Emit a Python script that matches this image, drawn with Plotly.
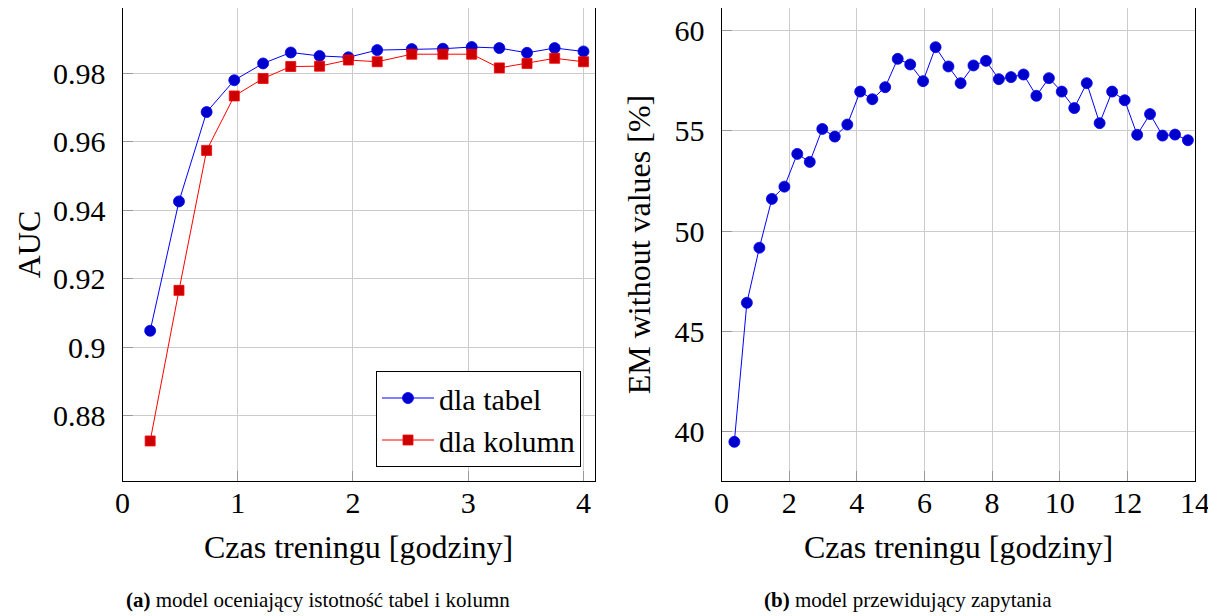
import plotly.graph_objects as go

# ---- data ----
hours_a = [0.24, 0.49, 0.73, 0.97, 1.22, 1.46, 1.71, 1.96, 2.21, 2.51, 2.78, 3.03, 3.27, 3.51, 3.75, 4.00]
auc_tables = [0.9048, 0.9426, 0.9687, 0.9780, 0.9829, 0.9861, 0.9851, 0.9847, 0.9868, 0.9871, 0.9872,
              0.9877, 0.9874, 0.9860, 0.9874, 0.9864]
auc_columns = [0.8726, 0.9166, 0.9575, 0.9734, 0.9785, 0.9820, 0.9821, 0.9839, 0.9834, 0.9856, 0.9856,
               0.9856, 0.9816, 0.9829, 0.9844, 0.9834]

hours_b = [0.38, 0.75, 1.12, 1.49, 1.86, 2.24, 2.61, 2.98, 3.35, 3.72, 4.10, 4.46, 4.84, 5.21, 5.58,
           5.96, 6.33, 6.71, 7.07, 7.45, 7.82, 8.20, 8.56, 8.93, 9.31, 9.68, 10.06, 10.43, 10.80,
           11.18, 11.55, 11.92, 12.29, 12.67, 13.04, 13.41, 13.79]
em_values = [39.51, 46.43, 49.17, 51.60, 52.21, 53.84, 53.44, 55.08, 54.70, 55.30, 56.94, 56.56, 57.16,
             58.57, 58.29, 57.46, 59.15, 58.19, 57.36, 58.24, 58.47, 57.56, 57.66, 57.79, 56.73, 57.61,
             56.94, 56.12, 57.36, 55.37, 56.94, 56.51, 54.79, 55.82, 54.75, 54.80, 54.52]

ticks_a_x = [0, 1, 2, 3, 4]
ticks_a_y = [0.88, 0.90, 0.92, 0.94, 0.96, 0.98]
ticklabels_a_y = ["0.88", "0.9", "0.92", "0.94", "0.96", "0.98"]
ticks_b_x = [0, 2, 4, 6, 8, 10, 12, 14]
ticks_b_y = [40, 45, 50, 55, 60]

series_names = ["dla tabel", "dla kolumn"]
x_title = "Czas treningu [godziny]"
y_title_a = "AUC"
y_title_b = "EM without values [%]"
caption_a = "<b>(a)</b> model oceniający istotność tabel i kolumn"
caption_b = "<b>(b)</b> model przewidujący zapytania"

# ---- layout constants ----
# the page body has an 8px margin, so the figure starts at screen (8, 8)
OFF = 8
W, H = 1216 - OFF, 616 - OFF
FONT = "Liberation Serif"
BLUE_LINE, BLUE_FILL = "#0000FF", "#0000CC"
RED_LINE, RED_FILL = "#FF0000", "#CC0000"

def px_x(p):
    return (p - OFF) / W

def px_y(p):
    return 1 - (p - OFF) / H

fig = go.Figure()

fig.add_trace(go.Scatter(
    x=hours_a, y=auc_tables, mode="lines+markers", name=series_names[0],
    line=dict(color=BLUE_LINE, width=1),
    marker=dict(symbol="circle", size=11, color=BLUE_FILL, line=dict(color=BLUE_LINE, width=0.8)),
    xaxis="x", yaxis="y"))
fig.add_trace(go.Scatter(
    x=hours_a, y=auc_columns, mode="lines+markers", name=series_names[1],
    line=dict(color=RED_LINE, width=1),
    marker=dict(symbol="square", size=10, color=RED_FILL, line=dict(color=RED_LINE, width=0.8)),
    xaxis="x", yaxis="y"))
fig.add_trace(go.Scatter(
    x=hours_b, y=em_values, mode="lines+markers", showlegend=False,
    line=dict(color=BLUE_LINE, width=1),
    marker=dict(symbol="circle", size=11, color=BLUE_FILL, line=dict(color=BLUE_LINE, width=0.8)),
    xaxis="x2", yaxis="y2"))

common = dict(
    showline=True, linecolor="black", linewidth=1.2, mirror=True,
    showgrid=True, gridcolor="#CCCCCC", gridwidth=1,
    ticks="inside", ticklen=10, tickcolor="#999999", tickwidth=1,
    zeroline=False, automargin=False,
    tickfont=dict(family=FONT, size=30, color="black"),
)
TITLE_FONT = dict(family=FONT, size=32, color="black")

ax_top, ax_bot = 8, 481
fig.update_layout(
    width=W, height=H,
    margin=dict(l=0, r=0, t=0, b=0),
    paper_bgcolor="white", plot_bgcolor="white",
    font=dict(family=FONT, color="black"),
    xaxis=dict(domain=[px_x(122.5), px_x(595)], range=[0, 4.1], tickvals=ticks_a_x,
               ticklabelstandoff=-5, anchor="y", **common),
    yaxis=dict(domain=[px_y(ax_bot), px_y(ax_top)], range=[0.8609, 0.9991], tickvals=ticks_a_y,
               ticktext=ticklabels_a_y,
               title=dict(text=y_title_a, font=TITLE_FONT, standoff=2),
               ticklabelstandoff=10, anchor="x", **common),
    xaxis2=dict(domain=[px_x(721.5), px_x(1195)], range=[0, 14], tickvals=ticks_b_x,
                ticklabelstandoff=-5, anchor="y2", **common),
    yaxis2=dict(domain=[px_y(ax_bot), px_y(ax_top)], range=[37.56, 61.1], tickvals=ticks_b_y,
                title=dict(text=y_title_b, font=TITLE_FONT, standoff=14),
                ticklabelstandoff=10, anchor="x2", **common),
    legend=dict(x=px_x(581), xanchor="right", y=px_y(467), yanchor="bottom",
                bgcolor="white", bordercolor="black", borderwidth=1,
                font=dict(family=FONT, size=30, color="black"), itemwidth=52, tracegroupgap=0),
    showlegend=True,
)

# x-axis titles (centred under each plot area)
fig.add_annotation(text=x_title, x=px_x((122.5 + 595) / 2), y=px_y(547), xref="paper", yref="paper",
                   showarrow=False, font=TITLE_FONT, xanchor="center", yanchor="middle")
fig.add_annotation(text=x_title, x=px_x((721.5 + 1195) / 2), y=px_y(547), xref="paper", yref="paper",
                   showarrow=False, font=TITLE_FONT, xanchor="center", yanchor="middle")

fig.add_annotation(text=caption_a, x=px_x(318), y=px_y(600), xref="paper", yref="paper",
                   showarrow=False, font=dict(family=FONT, size=21), xanchor="center", yanchor="middle")
fig.add_annotation(text=caption_b, x=px_x(908), y=px_y(600), xref="paper", yref="paper",
                   showarrow=False, font=dict(family=FONT, size=21), xanchor="center", yanchor="middle")

fig.write_html("out.html")
